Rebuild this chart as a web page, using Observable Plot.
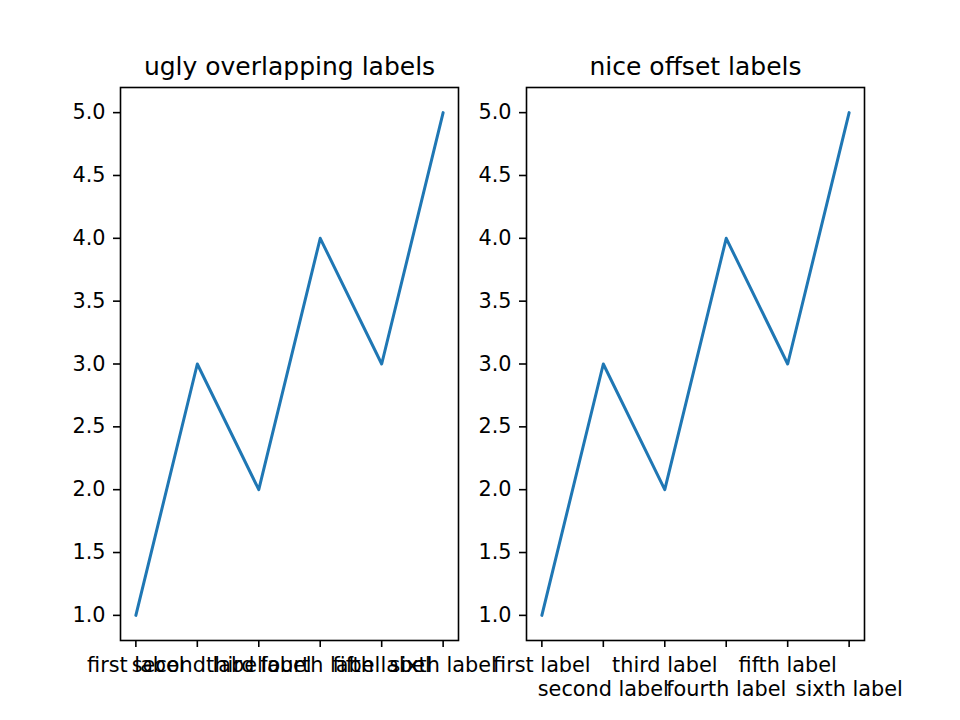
<!DOCTYPE html>
<html>
<head>
<meta charset="utf-8">
<script src="https://cdn.jsdelivr.net/npm/d3@7"></script>
<script src="https://cdn.jsdelivr.net/npm/@observablehq/plot@0.6"></script>
<style>
  html, body { margin: 0; padding: 0; background: #fff; }
  #wrap { position: relative; width: 960px; height: 720px; font-family: "DejaVu Sans", sans-serif; }
  #wrap svg { position: absolute; top: 0; overflow: visible; }
</style>
</head>
<body>
<div id="wrap"></div>
<script>
const labels = ["first label", "second label", "third label", "fourth label", "fifth label", "sixth label"];
const values = [1, 3, 2, 4, 3, 5];
const yTicks = [1.0, 1.5, 2.0, 2.5, 3.0, 3.5, 4.0, 4.5, 5.0];
const titles = ["ugly overlapping labels", "nice offset labels"];

const data = labels.map((l, i) => ({label: l, value: values[i]}));

function panel(title, left, marginLeft, marginRight, offset) {
  const p = Plot.plot({
    width: 480,
    height: 720,
    marginLeft, marginRight,
    marginTop: 87,
    marginBottom: 80,
    style: {fontFamily: "DejaVu Sans, sans-serif", fontSize: "20.8px", color: "#000", background: "transparent", overflow: "visible"},
    x: {type: "point", domain: labels, padding: 0.25, round: false},
    y: {domain: [0.8, 5.2]},
    marks: [
      Plot.axisY({ticks: yTicks, tickFormat: d3.format(".1f"), tickSize: 7, tickPadding: 8, label: null, fontSize: 20.8, strokeWidth: 1.6}),
      Plot.axisX({tickSize: 7, tickPadding: 7, label: null, fontSize: 20.8, strokeWidth: 1.6, lineHeight: 1.16,
        tickFormat: (d, i) => offset && i % 2 ? "\n" + d : d}),
      Plot.line(data, {x: "label", y: "value", stroke: "#1f77b4", strokeWidth: 3}),
      Plot.frame({stroke: "#000", strokeWidth: 1.6}),
      Plot.text([title], {text: d => d, frameAnchor: "top", lineAnchor: "middle", dy: -21, fontSize: 25, fill: "#000"})
    ]
  });
  p.style.left = left + "px";
  document.getElementById("wrap").appendChild(p);
}

panel(titles[0], 0, 120, 22, false);
panel(titles[1], 480, 46, 96, true);
</script>
</body>
</html>
